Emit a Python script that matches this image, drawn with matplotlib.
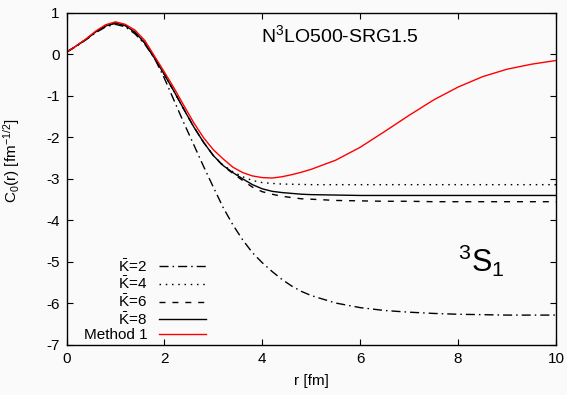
import matplotlib
matplotlib.use("Agg")
import matplotlib.pyplot as plt

plt.rcParams['font.family'] = ['Liberation Sans', 'DejaVu Sans']
plt.rcParams['mathtext.fontset'] = 'custom'
plt.rcParams['mathtext.rm'] = 'Liberation Sans'
plt.rcParams['mathtext.it'] = 'Liberation Sans:italic'
plt.rcParams['mathtext.bf'] = 'Liberation Sans:bold'
plt.rcParams['axes.unicode_minus'] = False

# ---- data ----
r = [0.0, 0.2, 0.4, 0.6, 0.8, 1.0, 1.2, 1.4, 1.6, 1.8, 2.0, 2.2, 2.4, 2.6,
     2.8, 3.0, 3.2, 3.4, 3.6, 3.8, 4.0, 4.2, 4.4, 4.6, 4.8, 5.0, 5.5, 6.0,
     6.5, 7.0, 7.5, 8.0, 8.5, 9.0, 9.5, 10.0]

k2 = [0.05, 0.19, 0.35, 0.52, 0.66, 0.72, 0.66, 0.49, 0.24, -0.10, -0.58,
      -1.12, -1.66, -2.18, -2.70, -3.20, -3.69, -4.11, -4.47, -4.78, -5.02,
      -5.23, -5.42, -5.58, -5.71, -5.81, -5.99, -6.10, -6.17, -6.21, -6.24,
      -6.26, -6.27, -6.28, -6.28, -6.28]

k4 = [0.05, 0.20, 0.36, 0.54, 0.68, 0.75, 0.69, 0.53, 0.27, -0.10, -0.49,
      -0.90, -1.33, -1.75, -2.12, -2.44, -2.67, -2.83, -2.95, -3.04, -3.09,
      -3.11, -3.125, -3.13, -3.135, -3.14, -3.14, -3.14, -3.14, -3.14, -3.14,
      -3.14, -3.14, -3.14, -3.14, -3.14]

k6 = [0.05, 0.20, 0.36, 0.54, 0.68, 0.75, 0.69, 0.53, 0.27, -0.10, -0.49,
      -0.90, -1.33, -1.75, -2.12, -2.44, -2.69, -2.87, -3.04, -3.20, -3.31,
      -3.37, -3.42, -3.45, -3.48, -3.49, -3.52, -3.53, -3.54, -3.54, -3.55,
      -3.55, -3.55, -3.55, -3.55, -3.55]

k8 = [0.05, 0.20, 0.36, 0.54, 0.68, 0.75, 0.69, 0.53, 0.27, -0.10, -0.49,
      -0.90, -1.33, -1.75, -2.12, -2.44, -2.68, -2.85, -3.00, -3.14, -3.24,
      -3.30, -3.33, -3.35, -3.37, -3.38, -3.39, -3.40, -3.40, -3.40, -3.40,
      -3.40, -3.40, -3.40, -3.40, -3.40]

method1 = [0.05, 0.20, 0.37, 0.56, 0.71, 0.78, 0.72, 0.58, 0.33, -0.05,
           -0.43, -0.82, -1.24, -1.65, -2.01, -2.30, -2.52, -2.72, -2.85,
           -2.93, -2.97, -2.98, -2.95, -2.90, -2.84, -2.77, -2.55, -2.24,
           -1.86, -1.47, -1.10, -0.79, -0.54, -0.36, -0.24, -0.15]

labels = [r'$\bar{\mathrm{K}}$=2', r'$\bar{\mathrm{K}}$=4',
          r'$\bar{\mathrm{K}}$=6', r'$\bar{\mathrm{K}}$=8', 'Method 1']
xticks = [0, 2, 4, 6, 8, 10]
yticks = [-7, -6, -5, -4, -3, -2, -1, 0, 1]

# ---- figure ----
bg = '#fafafa'
fig = plt.figure(figsize=(5.67, 3.95), dpi=100, facecolor=bg)
ax = fig.add_axes([66.5 / 567, 1 - 345 / 395, (556 - 66.5) / 567, (345 - 12.7) / 395])
ax.set_facecolor(bg)

lw = 1.0
l2, = ax.plot(r, k2, color='black', lw=lw, dashes=(6.5, 2.9, 1.1, 2.9))
l4, = ax.plot(r, k4, color='black', lw=lw, dashes=(1.1, 3.4))
l6, = ax.plot(r, k6, color='black', lw=lw, dashes=(4.3, 5.0))
l8, = ax.plot(r, k8, color='black', lw=lw)
lm, = ax.plot(r, method1, color='#ff0000', lw=lw)

ax.set_xlim(0, 10)
ax.set_ylim(-7, 1)
ax.set_xticks(xticks)
ax.set_yticks(yticks)
ax.set_xticklabels([str(t) for t in xticks])
ax.set_yticklabels([str(t) for t in yticks])
ax.tick_params(direction='in', top=True, right=True, length=4, width=0.8,
               labelsize=11, pad=5)
for s in ax.spines.values():
    s.set_linewidth(1.0)

ax.set_xlabel('r [fm]', fontsize=11, labelpad=6)
ax.set_ylabel(r'C$_0$(r) [fm$^{-1/2}$]', fontsize=11)
ax.yaxis.set_label_coords(-0.091, 0.554)

ax.text(3.97, 0.30, r'N$^3$LO500-SRG1.5', fontsize=14, ha='left', va='baseline')
ax.text(7.99, -5.24, r'$^3$S$_1$', fontsize=22, ha='left', va='baseline')

leg = ax.legend([l2, l4, l6, l8, lm], labels, markerfirst=False, frameon=False,
                loc='lower right', bbox_to_anchor=(0.285, 0.008),
                borderpad=0, borderaxespad=0, fontsize=11, handlelength=3.1,
                handletextpad=0.75, labelspacing=0.05)

fig.savefig('out.png', dpi=100, facecolor=bg)
